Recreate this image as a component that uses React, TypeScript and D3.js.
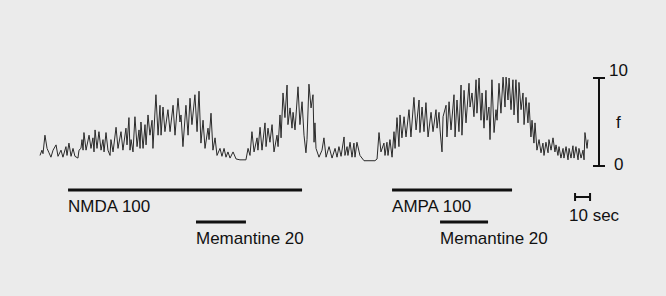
import React, { useRef, useEffect } from 'react';
import * as d3 from 'd3';

// recorded trace: [time (s), f]
const trace: [number, number][] = [
  [0, 1.2], [1.3, 1.8], [2, 1.4], [3.3, 3.5], [4.7, 2.0], [6, 1.5], [7.3, 1.0], [8.7, 1.8],
  [10.7, 2.4], [12, 1.1], [14, 1.8], [15.3, 1.0], [17.3, 2.2], [18, 1.2], [19.3, 2.6], [20.7, 1.1],
  [22, 2.0], [23.3, 1.1], [25.3, 0.9], [26, 1.8], [27.3, 2.0], [28, 3.0], [28.7, 1.8], [29.3, 3.8],
  [30.7, 1.8], [32.7, 3.5], [34, 2.0], [35.3, 3.2], [36, 1.6], [36.7, 4.1], [38, 2.0], [39.3, 3.9],
  [40.7, 1.8], [42, 3.0], [42.7, 1.6], [44, 3.8], [45.3, 1.8], [46.7, 1.2], [47.3, 3.0], [48.7, 1.6],
  [50.7, 4.4], [52, 2.0], [54, 3.9], [55.3, 1.8], [57.3, 4.3], [58, 2.4], [59.3, 5.5], [60, 1.8],
  [60.7, 3.0], [62, 1.6], [63.3, 5.6], [64.7, 2.2], [66, 4.1], [66.7, 2.0], [67.3, 5.0], [68.7, 2.0],
  [70, 4.7], [70.7, 2.4], [72, 5.8], [73.3, 3.5], [74.7, 5.2], [75.3, 2.0], [77.3, 8.1], [78.7, 3.5],
  [80, 6.9], [80.7, 3.5], [82, 6.7], [83.3, 3.9], [85.3, 6.4], [86.7, 3.9], [88.7, 6.9], [90, 3.5],
  [92, 7.7], [93.3, 5.0], [94, 5.8], [95.3, 2.2], [97.3, 6.9], [98.7, 3.5], [100, 7.7], [101.3, 4.7],
  [103.3, 8.1], [104.7, 3.9], [106, 8.5], [107.3, 2.6], [108.7, 5.2], [110, 2.0], [112, 4.3], [112.7, 3.0],
  [114, 6.0], [115.3, 1.8], [116.7, 3.2], [118, 1.2], [120, 2.0], [121.3, 1.1], [122.7, 2.0], [124, 1.0],
  [125.3, 1.6], [126.7, 0.9], [128.7, 1.6], [130.7, 0.8], [133.3, 0.7], [137.3, 0.7], [138.7, 2.0], [140, 1.2],
  [141.3, 3.9], [142.7, 1.6], [144.7, 3.2], [145.3, 1.8], [146.7, 4.4], [148, 1.8], [150, 4.9], [150.7, 2.2],
  [152, 4.3], [153.3, 2.7], [154.7, 4.7], [156, 1.6], [158, 3.5], [158.7, 2.2], [160, 5.8], [160.7, 3.2],
  [162, 8.3], [163.3, 5.5], [164.7, 9.2], [165.3, 4.7], [166.7, 6.6], [168, 4.3], [168.7, 6.1], [170, 4.1],
  [172, 9.0], [173.3, 4.7], [174.7, 7.3], [176, 3.5], [177.3, 1.5], [178, 3.0], [179.3, 9.3], [180.7, 6.6],
  [182, 8.1], [182.7, 2.7], [183.3, 4.9], [184, 2.0], [186, 1.0], [188, 1.8], [189.3, 3.2], [190.7, 1.0],
  [192.7, 2.2], [194.7, 0.9], [196.7, 2.0], [198, 1.0], [199.3, 2.2], [200.7, 1.1], [202.7, 3.3], [203.3, 1.2],
  [204.7, 2.2], [205.3, 1.2], [206.7, 2.7], [208, 1.0], [209.3, 2.6], [210, 1.0], [211.3, 2.7], [213.3, 1.2],
  [216, 0.6], [223.3, 0.6], [224.7, 0.8], [226, 3.8], [227.3, 1.6], [229.3, 2.6], [230, 1.2], [231.3, 2.7],
  [232, 1.2], [233.3, 3.0], [234.7, 1.0], [236, 3.9], [236.7, 2.0], [238, 5.5], [239.3, 2.2], [240, 5.8],
  [241.3, 3.2], [242.7, 5.6], [244, 3.3], [246, 6.4], [247.3, 3.3], [249.3, 7.8], [250.7, 4.1], [252.7, 7.5],
  [253.3, 3.8], [254.7, 6.7], [256, 3.9], [257.3, 7.2], [258.7, 3.3], [260.7, 6.1], [262, 3.9], [264, 6.4],
  [264.7, 4.3], [266, 6.1], [266.7, 4.1], [268, 1.6], [268.7, 5.6], [270.7, 6.9], [271.3, 3.3], [272.7, 7.3],
  [274, 4.1], [276, 8.1], [276.7, 3.3], [278, 7.5], [279.3, 3.9], [280.7, 9.2], [281.3, 3.5], [282.7, 8.6],
  [284, 4.9], [286, 9.4], [286.7, 6.7], [288, 8.3], [289.3, 5.6], [290.7, 9.8], [291.3, 6.0], [292.7, 10.0],
  [294, 5.2], [294.7, 8.3], [296, 4.3], [297.3, 8.6], [298, 5.2], [299.3, 6.7], [300, 3.0], [301.3, 9.8],
  [302.7, 3.8], [304, 6.4], [304.7, 5.2], [306, 9.4], [307.3, 6.0], [308.7, 10.1], [310, 6.7], [310.7, 10.1],
  [312, 7.5], [312.7, 10.0], [314, 6.4], [315.3, 9.8], [316, 5.8], [317.3, 9.8], [318.7, 4.9], [319.3, 9.5],
  [320.7, 6.4], [322, 8.3], [322.7, 4.7], [324, 7.8], [325.3, 4.9], [326, 7.2], [327.3, 3.3], [328, 5.2],
  [329.3, 2.6], [330, 4.9], [331.3, 1.8], [332.7, 3.0], [334, 1.5], [335.3, 2.6], [336, 1.2], [337.3, 2.7],
  [338.7, 1.5], [339.3, 3.0], [340.7, 1.8], [342, 3.2], [343.3, 1.6], [344, 2.4], [345.3, 1.2], [346, 2.2],
  [347.3, 0.9], [348.7, 2.0], [349.3, 0.9], [350.7, 2.2], [352, 0.7], [352.7, 2.0], [354, 0.9], [355.3, 2.3],
  [356, 0.9], [357.3, 2.2], [358.7, 0.7], [359.3, 2.0], [360.7, 0.9], [362, 1.8], [362.7, 0.7], [363.3, 3.8],
  [364.7, 2.0], [365.3, 3.0],
];

// drug applications: [label, start (s), end (s), row]
const drugs: [string, number, number, number][] = [
  ['NMDA 100', 18.7, 174.7, 0],
  ['Memantine 20', 104, 137.3, 1],
  ['AMPA 100', 234.7, 314.7, 0],
  ['Memantine 20', 266.7, 298.7, 1],
];

const fTicks = [0, 10];
const fLabel = 'f';
const timeBar = [356.7, 366.7];
const timeBarLabel = '10 sec';

const App = () => {
  const ref = useRef<HTMLDivElement>(null);

  useEffect(() => {
    if (!ref.current) return;
    d3.select(ref.current).select('svg').remove();

    const width = 666;
    const height = 296;
    const font = '"Liberation Sans", Arial, sans-serif';

    const svg = d3.select(ref.current)
      .append('svg')
      .attr('width', width)
      .attr('height', height)
      .style('position', 'absolute')
      .style('left', 0)
      .style('top', 0);

    svg.append('rect').attr('width', width).attr('height', height).attr('fill', '#ebebeb');

    const x = d3.scaleLinear().domain([0, 370]).range([40, 595]);
    const y = d3.scaleLinear().domain([0, 10]).range([166, 78]);

    const line = d3.line<[number, number]>()
      .x(d => x(d[0]))
      .y(d => y(d[1]));

    svg.append('path')
      .datum(trace)
      .attr('d', line)
      .attr('fill', 'none')
      .attr('stroke', '#2a2a2a')
      .attr('stroke-width', 1)
      .attr('stroke-linejoin', 'round');

    // drug bars
    const rowY = [190, 222];
    const g = svg.append('g');
    g.selectAll('line')
      .data(drugs)
      .enter()
      .append('line')
      .attr('x1', d => x(d[1]))
      .attr('x2', d => x(d[2]))
      .attr('y1', d => rowY[d[3]])
      .attr('y2', d => rowY[d[3]])
      .attr('stroke', '#111')
      .attr('stroke-width', 3);
    g.selectAll('text')
      .data(drugs)
      .enter()
      .append('text')
      .attr('x', d => x(d[1]))
      .attr('y', d => rowY[d[3]] + 22)
      .attr('font-family', font)
      .attr('font-size', 17)
      .attr('fill', '#111')
      .text(d => d[0]);

    // f scale bar
    const ax = 599;
    svg.append('line')
      .attr('x1', ax).attr('x2', ax)
      .attr('y1', y(0)).attr('y2', y(10))
      .attr('stroke', '#111').attr('stroke-width', 2);
    svg.selectAll('.ftick')
      .data(fTicks)
      .enter()
      .append('line')
      .attr('x1', ax - 6).attr('x2', ax + 6)
      .attr('y1', d => y(d)).attr('y2', d => y(d))
      .attr('stroke', '#111').attr('stroke-width', 2);
    svg.selectAll('.flabel')
      .data(fTicks)
      .enter()
      .append('text')
      .attr('x', d => (d === 10 ? 609 : 614))
      .attr('y', d => (d === 10 ? y(d) - 2 : y(d) + 4))
      .attr('font-family', font)
      .attr('font-size', 17)
      .attr('fill', '#111')
      .text(d => String(d));
    svg.append('text')
      .attr('x', 616).attr('y', y(5) + 6)
      .attr('font-family', font).attr('font-size', 17).attr('fill', '#111')
      .text(fLabel);

    // time scale bar
    const tb = 197;
    svg.append('line')
      .attr('x1', x(timeBar[0])).attr('x2', x(timeBar[1]))
      .attr('y1', tb).attr('y2', tb)
      .attr('stroke', '#111').attr('stroke-width', 2);
    svg.selectAll('.tbend')
      .data(timeBar)
      .enter()
      .append('line')
      .attr('x1', d => x(d)).attr('x2', d => x(d))
      .attr('y1', tb - 4).attr('y2', tb + 4)
      .attr('stroke', '#111').attr('stroke-width', 2);
    svg.append('text')
      .attr('x', 569).attr('y', 221)
      .attr('font-family', font).attr('font-size', 17).attr('fill', '#111')
      .text(timeBarLabel);
  }, []);

  return <div ref={ref}></div>;
};

export default App;
